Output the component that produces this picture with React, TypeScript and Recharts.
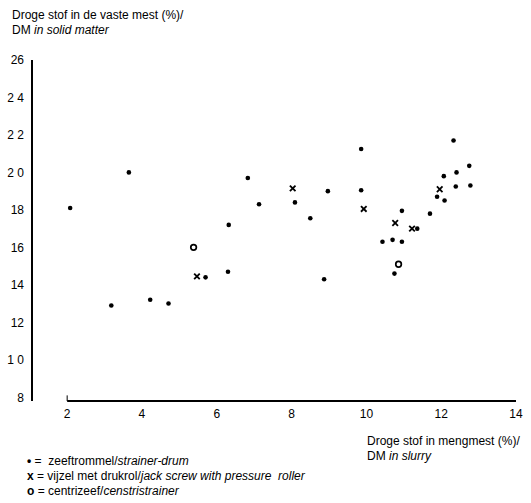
import React from "react";
import { ReferenceLine, Scatter, ScatterChart, XAxis, YAxis } from "recharts";

// zeeftrommel / strainer-drum
const drumX = [2.08, 3.65, 3.18, 4.22, 4.71, 5.7, 6.3, 6.32, 6.83, 7.13, 8.09, 8.5, 8.87, 8.97, 9.86, 9.86, 10.43, 10.7, 10.75, 10.95, 10.95, 11.36, 11.7, 11.89, 12.07, 12.09, 12.33, 12.39, 12.41, 12.75, 12.78];
const drumY = [18.1, 20.0, 12.9, 13.2, 13.0, 14.4, 14.7, 17.2, 19.7, 18.3, 18.4, 17.55, 14.3, 19.0, 19.05, 21.25, 16.3, 16.4, 14.6, 16.3, 17.95, 17.0, 17.8, 18.7, 19.8, 18.5, 21.7, 19.25, 20.0, 20.35, 19.3];

// vijzel met drukrol / jack screw
const screwX = [5.47, 8.03, 9.93, 10.77, 11.22, 11.96];
const screwY = [14.45, 19.15, 18.05, 17.3, 17.0, 19.1];

// centrizeef / centristrainer
const centriX = [5.38, 10.86];
const centriY = [16.0, 15.1];

const xTicks = [2, 4, 6, 8, 10, 12, 14];
const yTicks = [8, 10, 12, 14, 16, 18, 20, 22, 24, 26];
const yTickLabels = ["8", "1 0", "12", "14", "16", "18", "2 0", "2 2", "2 4", "26"];

const toPoints = (xs: number[], ys: number[]) => xs.map((x, i) => ({ x, y: ys[i] }));

const drumData = toPoints(drumX, drumY);
const screwData = toPoints(screwX, screwY);
const centriData = toPoints(centriX, centriY);

const FONT = "'Liberation Sans', Arial, sans-serif";

const DotShape = (props: any) => <circle cx={props.cx} cy={props.cy} r={2.3} fill="#000" />;

const CrossShape = (props: any) => {
  const { cx, cy } = props;
  const s = 2.8;
  return (
    <g stroke="#000" strokeWidth={1.8}>
      <line x1={cx - s} y1={cy - s} x2={cx + s} y2={cy + s} />
      <line x1={cx - s} y1={cy + s} x2={cx + s} y2={cy - s} />
    </g>
  );
};

const RingShape = (props: any) => (
  <circle cx={props.cx} cy={props.cy} r={2.8} fill="#fff" stroke="#000" strokeWidth={1.7} />
);

const textStyle: React.CSSProperties = {
  position: "absolute",
  fontFamily: FONT,
  fontSize: 12,
  lineHeight: "15px",
  color: "#000",
  whiteSpace: "nowrap",
};

export default function App() {
  return (
    <div style={{ position: "relative", width: 531, height: 503, background: "#fff" }}>
      <style>{`body{margin:0}`}</style>
      <ScatterChart
        width={531}
        height={503}
        margin={{ top: 60, right: 15, bottom: 72, left: 0 }}
      >
        <XAxis
          type="number"
          dataKey="x"
          domain={[1.06, 14]}
          ticks={xTicks}
          axisLine={false}
          tickLine={false}
          height={30}
          allowDataOverflow
          tick={{ fill: "#000", fontSize: 12, fontFamily: FONT }}
        />
        <YAxis
          type="number"
          dataKey="y"
          domain={[7.8, 26]}
          ticks={yTicks}
          width={32}
          tickLine={false}
          allowDataOverflow
          axisLine={{ stroke: "#000", strokeWidth: 2 }}
          tickFormatter={(v: number) => yTickLabels[yTicks.indexOf(v)]}
          tick={{ fill: "#000", fontSize: 12, fontFamily: FONT }}
        />
        <ReferenceLine
          segment={[{ x: 2, y: 7.8 }, { x: 14, y: 7.8 }]}
          stroke="#000"
          strokeWidth={2}
        />
        <ReferenceLine
          segment={[{ x: 2, y: 7.8 }, { x: 2, y: 8.1 }]}
          stroke="#000"
          strokeWidth={1}
        />
        <Scatter data={drumData} shape={DotShape} isAnimationActive={false} />
        <Scatter data={screwData} shape={CrossShape} isAnimationActive={false} />
        <Scatter data={centriData} shape={RingShape} isAnimationActive={false} />
      </ScatterChart>

      <div style={{ ...textStyle, left: 12, top: 8 }}>
        Droge stof in de vaste mest (%)/
        <br />
        DM <i>in solid matter</i>
      </div>

      <div style={{ ...textStyle, left: 367, top: 434 }}>
        Droge stof in mengmest (%)/
        <br />
        DM <i>in slurry</i>
      </div>

      <div style={{ ...textStyle, left: 27, top: 454 }}>
        <div>
          <b>•</b> =&nbsp; zeeftrommel/<i>strainer-drum</i>
        </div>
        <div>
          <b>x</b> = vijzel met drukrol/<i>jack screw with pressure&nbsp; roller</i>
        </div>
        <div>
          <b>o</b> = centrizeef/<i>censtristrainer</i>
        </div>
      </div>
    </div>
  );
}
